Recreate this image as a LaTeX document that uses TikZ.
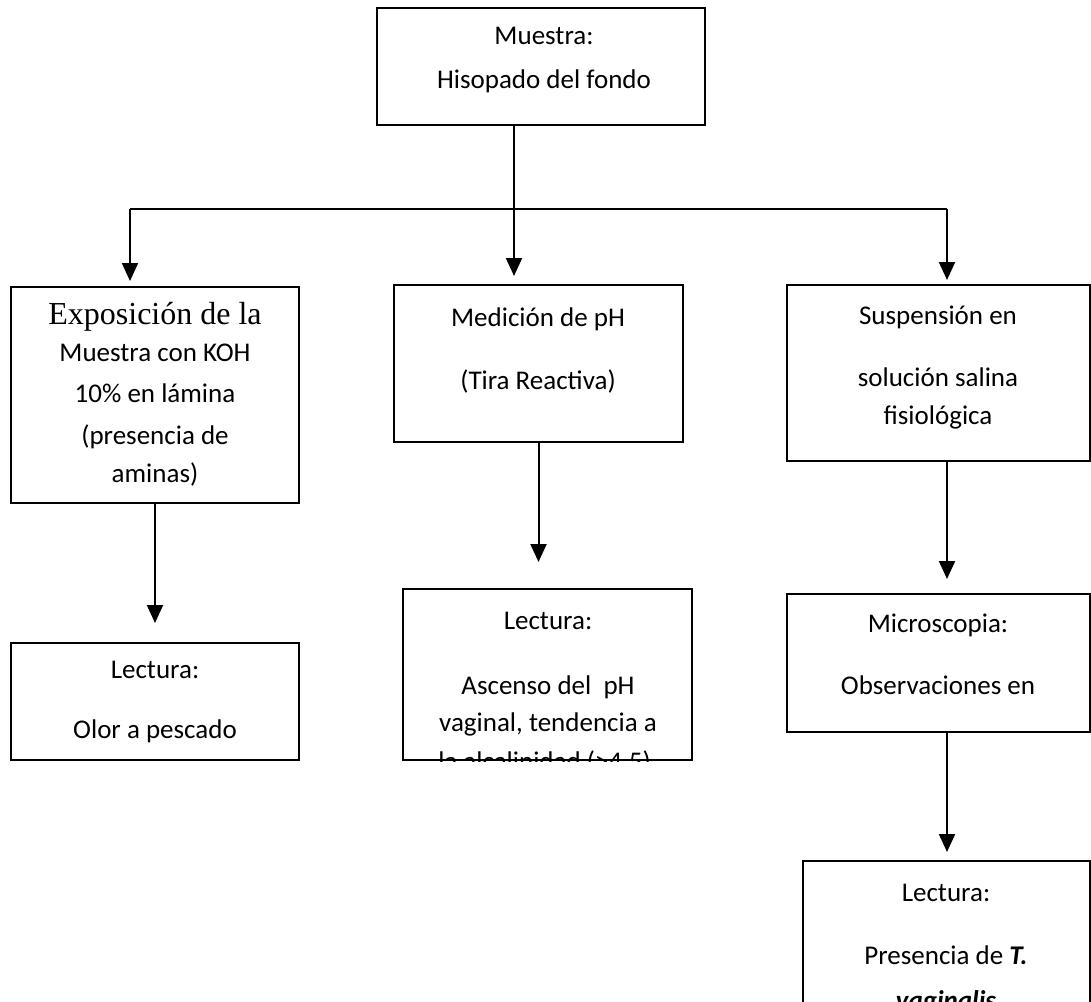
\documentclass[tikz,border=0pt]{standalone}
\usepackage{fontspec}
\setmainfont{Carlito}
\newfontfamily\timesf{Liberation Serif}
\usetikzlibrary{arrows.meta,fit}
\begin{document}
\begin{tikzpicture}[x=0.5pt,y=-0.5pt,
  box/.style={draw, line width=1pt, rectangle, inner sep=0pt},
  conn/.style={line width=1pt},
  arr/.style={line width=1pt, -{Triangle[length=9pt,width=8pt]}},
  txt/.style={font=\fontsize{13.5}{16}\selectfont, inner sep=0pt, anchor=mid},
  ser/.style={font=\fontsize{16}{18}\timesf\selectfont, inner sep=0pt, anchor=mid}]
\clip (0,0) rectangle (1091,1001);
\fill[white] (0,0) rectangle (1091,1001);
% boxes
\node[box, fit={(377,8) (705,125)}] (top) {};
\node[box, fit={(11,287) (299,503)}] (A) {};
\node[box, fit={(394,285) (683,442)}] (B) {};
\node[box, fit={(787,285) (1090,461)}] (C) {};
\node[box, fit={(11,643) (299,760)}] (A2) {};
\node[box, fit={(403,589) (692,760)}] (B2) {};
\node[box, fit={(787,594) (1090,732)}] (C2) {};
\node[box, fit={(803,861) (1090,1030)}] (D2) {};
% texts
\node[txt] (t1) at (544,40) {Muestra:};
\node[txt] (t2) at (544,84) {Hisopado del fondo};
\node[ser] (a1) at (155,320) {Exposición de la};
\node[txt] (a2) at (155,357) {Muestra con KOH};
\node[txt] (a3) at (155,398) {10\% en lámina};
\node[txt] (a4) at (155,440) {(presencia de};
\node[txt] (a5) at (155,478) {aminas)};
\node[txt] (b1) at (538,322) {Medición de pH};
\node[txt] (b2) at (538,385) {(Tira Reactiva)};
\node[txt] (c1) at (938,320) {Suspensión en};
\node[txt] (c2) at (938,382) {solución salina};
\node[txt] (c3) at (938,420) {fisiológica};
\node[txt] (a21) at (155,674) {Lectura:};
\node[txt] (a22) at (155,734) {Olor a pescado};
\node[txt] (b21) at (548,625) {Lectura:};
\node[txt] (b22) at (548,690) {Ascenso del\ \ pH};
\node[txt] (b23) at (548,727) {vaginal, tendencia a};
\begin{scope}
  \clip (B2.south west) rectangle (B2.north east);
  \node[txt] (b24) at (548,766) {la alcalinidad (>4.5).};
\end{scope}
\node[txt] (c21) at (938,628) {Microscopia:};
\node[txt] (c22) at (938,690) {Observaciones en};
\node[txt] (d1) at (946,897) {Lectura:};
\node[txt] (d2) at (946,960) {Presencia de \textbf{\textit{T.}}};
\node[txt] (d3) at (946,1005) {\textbf{\textit{vaginalis}}};
% connectors
\coordinate (split) at (514,209);
\coordinate (topout) at (top.south -| split);
\coordinate (lA) at (130,209);
\coordinate (lC) at (947,209);
\coordinate (tipA) at (130,281);
\coordinate (tipB) at (514,276);
\coordinate (tipC) at (947,280);
\coordinate (tipA2) at (A.south |- 0,623);
\coordinate (tipB2) at (B.south |- 0,562);
\coordinate (tipC2) at (947,579);
\coordinate (tipD2) at (947,852);
\draw[conn] (topout) -- (split);
\draw[conn] (lA) -- (lC);
\draw[arr] (lA) -- (tipA);
\draw[arr] (split) -- (tipB);
\draw[arr] (lC) -- (tipC);
\draw[arr] (A.south) -- (tipA2);
\draw[arr] (B.south) -- (tipB2);
\draw[arr] (C.south -| tipC2) -- (tipC2);
\draw[arr] (C2.south -| tipD2) -- (tipD2);
\end{tikzpicture}
\end{document}
